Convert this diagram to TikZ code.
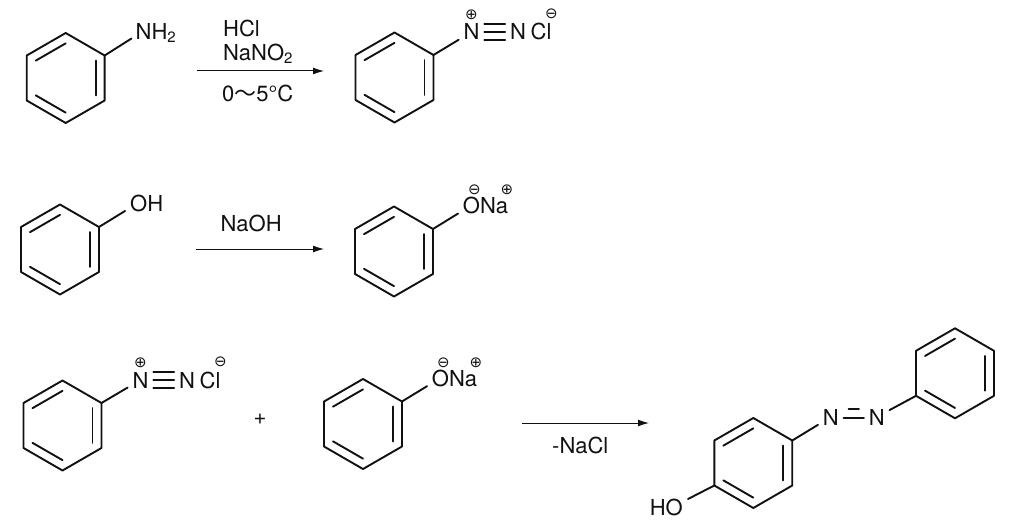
\documentclass[tikz,border=0pt]{standalone}
\usepackage{fontspec}
\setmainfont{TeX Gyre Heros}
\newfontfamily\symfont{DejaVu Sans}
\newfontfamily\cjkfont{Noto Sans CJK JP}
\usetikzlibrary{calc,arrows.meta}
\definecolor{ink}{HTML}{111111}
\newcommand{\lowtwo}{\raisebox{-3.5pt}{\fontsize{15}{16}\selectfont 2}}
\tikzset{
  bond/.style={draw=ink,line width=1.9pt,line cap=round,line join=round},
  atom/.style={inner sep=4.7pt,anchor=base,text=ink,font=\fontsize{22}{24}\selectfont},
  lbl/.style={inner sep=0pt,anchor=base west,text=ink,font=\fontsize{22}{24}\selectfont},
  charge/.style={inner sep=0pt,anchor=center,text=ink,font=\symfont\fontsize{15}{16}\selectfont},
  rxn/.style={draw=ink,line width=1pt,-{Latex[length=11pt,width=7pt]}}
}
% ring: name, centre x, centre y
\newcommand{\benzene}[3]{%
  \coordinate (#1c) at (#2,#3);
  \coordinate (#1ur) at ($(#1c)+(-30:45)$);
  \coordinate (#1t)  at ($(#1c)+(-90:45)$);
  \coordinate (#1ul) at ($(#1c)+(-150:45)$);
  \coordinate (#1ll) at ($(#1c)+(150:45)$);
  \coordinate (#1b)  at ($(#1c)+(90:45)$);
  \coordinate (#1lr) at ($(#1c)+(30:45)$);
  \draw[bond] (#1t)--(#1ur)--(#1lr)--(#1b)--(#1ll)--(#1ul)--cycle;
  \draw[bond] ($(#1t)!.23!(#1c)$)--($(#1ul)!.23!(#1c)$);
  \draw[bond] ($(#1ur)!.23!(#1c)$)--($(#1lr)!.23!(#1c)$);
  \draw[bond] ($(#1ll)!.23!(#1c)$)--($(#1b)!.23!(#1c)$);
}
% diazonium chloride: name, N x-centre, baseline, ring name
\newcommand{\diazonium}[4]{%
  \node[atom] (#1a) at (#2,#3) {N};
  \node[atom] (#1b) at ($(#2,#3)+(46.5,0)$) {N};
  \node[lbl] (#1cl) at ($(#2,#3)+(59,0)$) {Cl};
  \node[charge] (#1p) at ($(#2,#3)+(0,-25)$) {⊕};
  \node[charge] (#1m) at ($(#2,#3)+(80,-26)$) {⊖};
  \draw[bond] (#4ur)--(#1a);
  \draw[bond] (#1a.east)--(#1b.west);
  \draw[bond] ([yshift=8.4pt]#1a.east)--([yshift=8.4pt]#1b.west);
  \draw[bond] ([yshift=-8.4pt]#1a.east)--([yshift=-8.4pt]#1b.west);
}
% phenoxide: name, O x-centre, baseline, ring name
\newcommand{\phenoxide}[4]{%
  \node[atom] (#1o) at (#2,#3) {O};
  \node[lbl] (#1na) at ($(#2,#3)+(8.3,0)$) {Na};
  \node[charge] (#1m) at ($(#2,#3)+(2.8,-23.5)$) {⊖};
  \node[charge] (#1p) at ($(#2,#3)+(35.5,-23.5)$) {⊕};
  \draw[bond] (#4ur)--(#1o);
}
\begin{document}
\begin{tikzpicture}[x=1pt,y=-1pt]
\useasboundingbox (0,0) rectangle (1024,521);
% row 1
\benzene{A}{65.7}{78}
\node[lbl] (nh) at (135.5,39.5) {NH\lowtwo};
\draw[bond] (Aur)--([xshift=-4pt,yshift=1pt]nh.base west);
\node[lbl] (hcl) at (223,37) {HCl};
\node[lbl] (nano) at (223,60.5) {NaNO\lowtwo};
\node[lbl] (temp) at (222,102) {0{\cjkfont 〜}5°C};
\coordinate (a1s) at (197,71);
\coordinate (a1e) at (324,71);
\draw[rxn] (a1s)--(a1e);
\benzene{B}{394.5}{77.5}
\diazonium{dz}{471.5}{40}{B}
% row 2
\benzene{C}{60}{249.5}
\node[lbl] (oh) at (130,212) {OH};
\draw[bond] (Cur)--([xshift=-5pt,yshift=1pt]oh.base west);
\node[lbl] (naoh) at (220.5,232) {NaOH};
\coordinate (a2s) at (196,249);
\coordinate (a2e) at (324,249);
\draw[rxn] (a2s)--(a2e);
\benzene{D}{394}{251.5}
\phenoxide{px}{471.5}{213.3}{D}
% row 3
\benzene{E}{62.5}{425.5}
\diazonium{dy}{140.5}{388}{E}
\node[lbl] (plus) at (253.5,424.5) {+};
\benzene{F}{363}{424}
\phenoxide{py}{440.5}{386}{F}
\coordinate (a3s) at (522,423);
\coordinate (a3e) at (649,423);
\draw[rxn] (a3s)--(a3e);
\node[lbl] (nacl) at (552,453) {-NaCl};
% product
\benzene{G}{753.3}{463}
\benzene{H}{955}{373.3}
\node[atom] (n1) at (830.8,425) {N};
\node[atom] (n2) at (876.7,425) {N};
\draw[bond] (Gur)--(n1);
\draw[bond] (n2)--(Hll);
\draw[bond] ([yshift=-1pt]n1.east)--([yshift=-1pt]n2.west);
\draw[bond,shorten >=5pt,shorten <=5pt] ([yshift=8pt]n1.east)--([yshift=8pt]n2.west);
\node[inner sep=0pt,anchor=base east,text=ink,font=\fontsize{22}{24}\selectfont] (ho) at (683,515) {HO};
\draw[bond] (Gll)--([xshift=5pt,yshift=16pt]ho.base east);
\end{tikzpicture}
\end{document}
